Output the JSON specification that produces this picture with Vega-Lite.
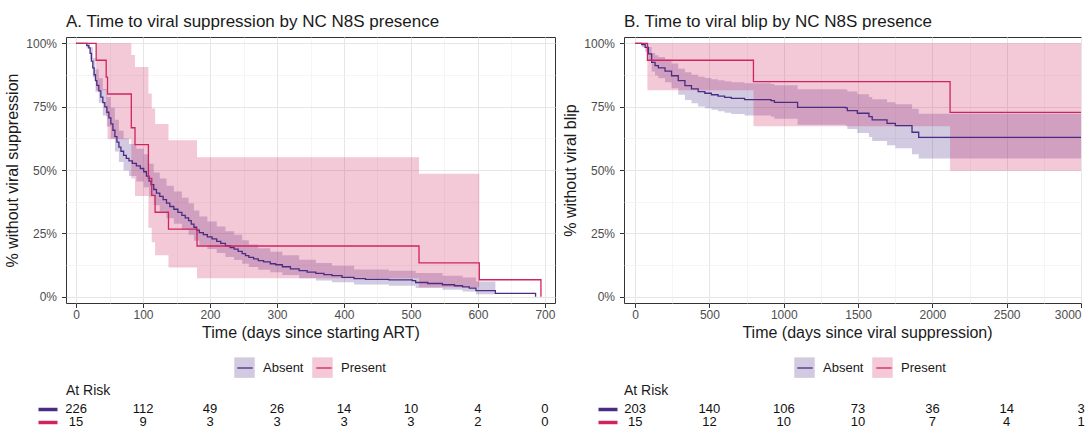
{
  "$schema": "https://vega.github.io/schema/vega-lite/v6.json",
  "padding": {"left": 4, "top": 12, "right": 0, "bottom": 0},
  "background": "white",
  "config": {
    "font": "Liberation Sans",
    "view": {"stroke": "#333333", "strokeWidth": 1},
    "axis": {"labelFont": "Liberation Sans", "labelFontSize": 12, "labelColor": "#4d4d4d", "titleFont": "Liberation Sans", "titleFontSize": 16, "titleFontWeight": "normal", "titleColor": "#1a1a1a", "tickColor": "#333333", "tickSize": 4.5, "tickWidth": 1, "domain": false, "gridColor": "#e6e6e6", "gridWidth": 1},
    "legend": {"labelFont": "Liberation Sans", "labelFontSize": 13, "labelColor": "#1a1a1a", "padding": 0},
    "title": {"font": "Liberation Sans", "fontWeight": "normal", "color": "#1a1a1a"}
  },
  "datasets": {
    "kmA": [
      {"t":0,"s":100,"g":"Absent"},{"t":16,"s":99.1,"g":"Absent"},{"t":19,"s":98.2,"g":"Absent"},{"t":21,"s":96,"g":"Absent"},{"t":23,"s":93,"g":"Absent"},{"t":25,"s":90.3,"g":"Absent"},{"t":27,"s":87.6,"g":"Absent"},{"t":29,"s":85.3,"g":"Absent"},{"t":31,"s":83.4,"g":"Absent"},{"t":34,"s":81.2,"g":"Absent"},{"t":37,"s":78.8,"g":"Absent"},{"t":40,"s":76.6,"g":"Absent"},{"t":43,"s":74.9,"g":"Absent"},{"t":46,"s":72.8,"g":"Absent"},{"t":49,"s":70.6,"g":"Absent"},{"t":52,"s":68.2,"g":"Absent"},{"t":55,"s":65.7,"g":"Absent"},{"t":58,"s":63.2,"g":"Absent"},{"t":61,"s":61,"g":"Absent"},{"t":64,"s":59,"g":"Absent"},{"t":67,"s":57.4,"g":"Absent"},{"t":71,"s":55.8,"g":"Absent"},{"t":75,"s":54.6,"g":"Absent"},{"t":79,"s":53.6,"g":"Absent"},{"t":84,"s":52.6,"g":"Absent"},{"t":90,"s":51.6,"g":"Absent"},{"t":96,"s":50.6,"g":"Absent"},{"t":101,"s":49.3,"g":"Absent"},{"t":105,"s":47.6,"g":"Absent"},{"t":109,"s":45.6,"g":"Absent"},{"t":112,"s":44.2,"g":"Absent"},{"t":116,"s":42.3,"g":"Absent"},{"t":120,"s":40.9,"g":"Absent"},{"t":125,"s":39.6,"g":"Absent"},{"t":130,"s":38.3,"g":"Absent"},{"t":135,"s":36.9,"g":"Absent"},{"t":140,"s":35.6,"g":"Absent"},{"t":146,"s":34.5,"g":"Absent"},{"t":152,"s":33.3,"g":"Absent"},{"t":158,"s":32.1,"g":"Absent"},{"t":163,"s":31.1,"g":"Absent"},{"t":168,"s":30,"g":"Absent"},{"t":172,"s":28.6,"g":"Absent"},{"t":176,"s":27.4,"g":"Absent"},{"t":180,"s":26.3,"g":"Absent"},{"t":184,"s":25.3,"g":"Absent"},{"t":190,"s":24.5,"g":"Absent"},{"t":196,"s":23.6,"g":"Absent"},{"t":203,"s":22.8,"g":"Absent"},{"t":210,"s":21.8,"g":"Absent"},{"t":216,"s":21,"g":"Absent"},{"t":223,"s":20.1,"g":"Absent"},{"t":230,"s":19.4,"g":"Absent"},{"t":236,"s":18.8,"g":"Absent"},{"t":242,"s":17.9,"g":"Absent"},{"t":248,"s":17,"g":"Absent"},{"t":253,"s":16.2,"g":"Absent"},{"t":258,"s":15.5,"g":"Absent"},{"t":265,"s":14.9,"g":"Absent"},{"t":272,"s":14.2,"g":"Absent"},{"t":280,"s":13.7,"g":"Absent"},{"t":290,"s":13,"g":"Absent"},{"t":298,"s":12.6,"g":"Absent"},{"t":308,"s":11.8,"g":"Absent"},{"t":320,"s":11,"g":"Absent"},{"t":333,"s":10.3,"g":"Absent"},{"t":345,"s":9.7,"g":"Absent"},{"t":358,"s":9.2,"g":"Absent"},{"t":370,"s":8.7,"g":"Absent"},{"t":382,"s":8.3,"g":"Absent"},{"t":397,"s":7.6,"g":"Absent"},{"t":415,"s":7.1,"g":"Absent"},{"t":432,"s":6.8,"g":"Absent"},{"t":467,"s":6.6,"g":"Absent"},{"t":502,"s":6.3,"g":"Absent"},{"t":507,"s":5.6,"g":"Absent"},{"t":525,"s":5.2,"g":"Absent"},{"t":547,"s":4.7,"g":"Absent"},{"t":565,"s":4.3,"g":"Absent"},{"t":577,"s":3.9,"g":"Absent"},{"t":587,"s":3.4,"g":"Absent"},{"t":597,"s":2.4,"g":"Absent"},{"t":626,"s":1.3,"g":"Absent"},{"t":686,"s":0,"g":"Absent"},
      {"t":0,"s":100,"g":"Present"},{"t":30,"s":93.33,"g":"Present"},{"t":45,"s":86.67,"g":"Present"},{"t":47,"s":80,"g":"Present"},{"t":82.5,"s":66.67,"g":"Present"},{"t":88,"s":60,"g":"Present"},{"t":108,"s":46.67,"g":"Present"},{"t":113,"s":40,"g":"Present"},{"t":118,"s":33.33,"g":"Present"},{"t":138,"s":26.67,"g":"Present"},{"t":180.6,"s":20,"g":"Present"},{"t":512,"s":13.33,"g":"Present"},{"t":602,"s":6.67,"g":"Present"},{"t":694,"s":0,"g":"Present"}
    ],
    "ciA": [
      {"t":0,"lo":100,"hi":100,"g":"Absent"},{"t":16,"lo":98,"hi":100,"g":"Absent"},{"t":21,"lo":93.6,"hi":98.5,"g":"Absent"},{"t":25,"lo":86.5,"hi":94.2,"g":"Absent"},{"t":29,"lo":80.9,"hi":89.8,"g":"Absent"},{"t":34,"lo":76.5,"hi":86.2,"g":"Absent"},{"t":40,"lo":71.5,"hi":82,"g":"Absent"},{"t":46,"lo":67.2,"hi":78.8,"g":"Absent"},{"t":52,"lo":62.4,"hi":74.6,"g":"Absent"},{"t":58,"lo":57.3,"hi":69.8,"g":"Absent"},{"t":64,"lo":53.2,"hi":65.5,"g":"Absent"},{"t":71,"lo":49.8,"hi":62.4,"g":"Absent"},{"t":79,"lo":47.6,"hi":60.3,"g":"Absent"},{"t":90,"lo":45.5,"hi":58.4,"g":"Absent"},{"t":101,"lo":43.2,"hi":56.2,"g":"Absent"},{"t":109,"lo":39.5,"hi":52.5,"g":"Absent"},{"t":116,"lo":36.1,"hi":49,"g":"Absent"},{"t":125,"lo":33.6,"hi":46.6,"g":"Absent"},{"t":135,"lo":31,"hi":43.8,"g":"Absent"},{"t":146,"lo":28.8,"hi":41.5,"g":"Absent"},{"t":158,"lo":26.3,"hi":39,"g":"Absent"},{"t":168,"lo":24.4,"hi":36.9,"g":"Absent"},{"t":176,"lo":22.1,"hi":34,"g":"Absent"},{"t":184,"lo":20.3,"hi":31.6,"g":"Absent"},{"t":196,"lo":18.8,"hi":29.7,"g":"Absent"},{"t":210,"lo":17.2,"hi":27.7,"g":"Absent"},{"t":223,"lo":15.7,"hi":25.8,"g":"Absent"},{"t":236,"lo":14.5,"hi":24.4,"g":"Absent"},{"t":248,"lo":13,"hi":22.3,"g":"Absent"},{"t":258,"lo":11.7,"hi":20.6,"g":"Absent"},{"t":272,"lo":10.6,"hi":19.1,"g":"Absent"},{"t":290,"lo":9.6,"hi":17.7,"g":"Absent"},{"t":308,"lo":8.6,"hi":16.3,"g":"Absent"},{"t":333,"lo":7.3,"hi":14.6,"g":"Absent"},{"t":358,"lo":6.4,"hi":13.3,"g":"Absent"},{"t":382,"lo":5.7,"hi":12.2,"g":"Absent"},{"t":415,"lo":4.8,"hi":10.7,"g":"Absent"},{"t":467,"lo":4.3,"hi":10.2,"g":"Absent"},{"t":507,"lo":3.4,"hi":9.3,"g":"Absent"},{"t":547,"lo":2.7,"hi":8.3,"g":"Absent"},{"t":577,"lo":2,"hi":7.6,"g":"Absent"},{"t":597,"lo":1,"hi":6,"g":"Absent"},{"t":626,"lo":1,"hi":6,"g":"Absent"},
      {"t":0,"lo":100,"hi":100,"g":"Present"},{"t":30,"lo":81.5,"hi":100,"g":"Present"},{"t":45,"lo":71.1,"hi":100,"g":"Present"},{"t":47,"lo":62.1,"hi":100,"g":"Present"},{"t":82.5,"lo":46.6,"hi":95.4,"g":"Present"},{"t":88,"lo":39.7,"hi":90.7,"g":"Present"},{"t":108,"lo":27.2,"hi":80.2,"g":"Present"},{"t":113,"lo":21.5,"hi":74.3,"g":"Present"},{"t":118,"lo":16.3,"hi":68.2,"g":"Present"},{"t":138,"lo":11.5,"hi":61.7,"g":"Present"},{"t":180.6,"lo":7.3,"hi":55,"g":"Present"},{"t":512,"lo":3.7,"hi":48.5,"g":"Present"},{"t":602,"lo":3.7,"hi":48.5,"g":"Present"}
    ],
    "kmB": [
      {"t":0,"s":100,"g":"Absent"},{"t":44,"s":99.5,"g":"Absent"},{"t":67,"s":98.4,"g":"Absent"},{"t":89,"s":95.8,"g":"Absent"},{"t":111,"s":92.5,"g":"Absent"},{"t":134,"s":91.2,"g":"Absent"},{"t":156,"s":90.3,"g":"Absent"},{"t":201,"s":89,"g":"Absent"},{"t":245,"s":87.2,"g":"Absent"},{"t":290,"s":85.3,"g":"Absent"},{"t":335,"s":83.3,"g":"Absent"},{"t":379,"s":82,"g":"Absent"},{"t":424,"s":80.9,"g":"Absent"},{"t":469,"s":80.3,"g":"Absent"},{"t":513,"s":79.7,"g":"Absent"},{"t":558,"s":79.2,"g":"Absent"},{"t":602,"s":78.7,"g":"Absent"},{"t":647,"s":78.3,"g":"Absent"},{"t":736,"s":77.8,"g":"Absent"},{"t":914,"s":77.4,"g":"Absent"},{"t":937,"s":76.7,"g":"Absent"},{"t":1093,"s":74.7,"g":"Absent"},{"t":1416,"s":74.5,"g":"Absent"},{"t":1428,"s":73.4,"g":"Absent"},{"t":1495,"s":72.4,"g":"Absent"},{"t":1573,"s":71.1,"g":"Absent"},{"t":1595,"s":69.8,"g":"Absent"},{"t":1695,"s":68.4,"g":"Absent"},{"t":1751,"s":67.5,"g":"Absent"},{"t":1863,"s":64.9,"g":"Absent"},{"t":1908,"s":62.9,"g":"Absent"},{"t":3000,"s":62.9,"g":"Absent"},
      {"t":0,"s":100,"g":"Present"},{"t":82.6,"s":93.33,"g":"Present"},{"t":796,"s":84.85,"g":"Present"},{"t":2119,"s":72.73,"g":"Present"},{"t":3000,"s":72.73,"g":"Present"}
    ],
    "ciB": [
      {"t":0,"lo":100,"hi":100,"g":"Absent"},{"t":44,"lo":98.5,"hi":100,"g":"Absent"},{"t":67,"lo":96.7,"hi":100,"g":"Absent"},{"t":89,"lo":93.1,"hi":98.6,"g":"Absent"},{"t":111,"lo":88.9,"hi":96.2,"g":"Absent"},{"t":134,"lo":87.3,"hi":95.3,"g":"Absent"},{"t":156,"lo":86.2,"hi":94.6,"g":"Absent"},{"t":201,"lo":84.6,"hi":93.6,"g":"Absent"},{"t":245,"lo":82.3,"hi":92,"g":"Absent"},{"t":290,"lo":79.7,"hi":90,"g":"Absent"},{"t":335,"lo":77.6,"hi":88.6,"g":"Absent"},{"t":379,"lo":76.3,"hi":87.6,"g":"Absent"},{"t":424,"lo":75.1,"hi":86.8,"g":"Absent"},{"t":469,"lo":74.4,"hi":86.3,"g":"Absent"},{"t":513,"lo":73.8,"hi":85.8,"g":"Absent"},{"t":558,"lo":73.2,"hi":85.4,"g":"Absent"},{"t":602,"lo":72.6,"hi":85,"g":"Absent"},{"t":647,"lo":72.1,"hi":84.6,"g":"Absent"},{"t":736,"lo":71.5,"hi":84.2,"g":"Absent"},{"t":914,"lo":71,"hi":83.9,"g":"Absent"},{"t":937,"lo":70.2,"hi":83.5,"g":"Absent"},{"t":1093,"lo":67.9,"hi":81.9,"g":"Absent"},{"t":1416,"lo":67.5,"hi":81.8,"g":"Absent"},{"t":1428,"lo":66.2,"hi":81,"g":"Absent"},{"t":1495,"lo":64.6,"hi":79.9,"g":"Absent"},{"t":1573,"lo":63,"hi":78.8,"g":"Absent"},{"t":1595,"lo":61.4,"hi":77.9,"g":"Absent"},{"t":1695,"lo":59.8,"hi":76.7,"g":"Absent"},{"t":1751,"lo":58.6,"hi":76,"g":"Absent"},{"t":1863,"lo":56.2,"hi":74.2,"g":"Absent"},{"t":1908,"lo":54.5,"hi":72.2,"g":"Absent"},{"t":3000,"lo":54.5,"hi":72.2,"g":"Absent"},
      {"t":0,"lo":100,"hi":100,"g":"Present"},{"t":82.6,"lo":81.5,"hi":100,"g":"Present"},{"t":796,"lo":67.3,"hi":100,"g":"Present"},{"t":2119,"lo":49.7,"hi":100,"g":"Present"},{"t":3000,"lo":49.7,"hi":100,"g":"Present"}
    ],
    "riskA": [
      {"t":0,"g":"Absent","n":226},{"t":100,"g":"Absent","n":112},{"t":200,"g":"Absent","n":49},{"t":300,"g":"Absent","n":26},{"t":400,"g":"Absent","n":14},{"t":500,"g":"Absent","n":10},{"t":600,"g":"Absent","n":4},{"t":700,"g":"Absent","n":0},
      {"t":0,"g":"Present","n":15},{"t":100,"g":"Present","n":9},{"t":200,"g":"Present","n":3},{"t":300,"g":"Present","n":3},{"t":400,"g":"Present","n":3},{"t":500,"g":"Present","n":3},{"t":600,"g":"Present","n":2},{"t":700,"g":"Present","n":0}
    ],
    "riskB": [
      {"t":0,"g":"Absent","n":203},{"t":500,"g":"Absent","n":140},{"t":1000,"g":"Absent","n":106},{"t":1500,"g":"Absent","n":73},{"t":2000,"g":"Absent","n":36},{"t":2500,"g":"Absent","n":14},{"t":3000,"g":"Absent","n":3},
      {"t":0,"g":"Present","n":15},{"t":500,"g":"Present","n":12},{"t":1000,"g":"Present","n":10},{"t":1500,"g":"Present","n":10},{"t":2000,"g":"Present","n":7},{"t":2500,"g":"Present","n":4},{"t":3000,"g":"Present","n":1}
    ]
  },
  "columns": 2,
  "align": "each",
  "spacing": {"row": 4, "column": 6},
  "resolve": {"scale": {"fill": "independent", "stroke": "independent"}, "legend": {"fill": "independent", "stroke": "independent"}},
  "concat": [
    {
      "width": 489, "height": 266,
      "title": {"text": "A. Time to viral suppression by NC N8S presence", "anchor": "start", "frame": "group", "fontSize": 17, "offset": -7, "baseline": "alphabetic"},
      "layer": [
        {
          "data": {"name": "ciA"},
          "mark": {"type": "area", "interpolate": "step-after", "fillOpacity": 0.25},
          "encoding": {
            "x": {"field": "t", "type": "quantitative", "scale": {"domain": [-15, 715], "nice": false, "zero": false}, "axis": {"orient": "bottom", "values": [50,150,250,350,450,550,650], "grid": true, "gridColor": "#f1f1f1", "gridWidth": 0.7, "labels": false, "ticks": false, "title": null}},
            "y": {"field": "lo", "type": "quantitative", "stack": null, "scale": {"domain": [-2.5, 102.5], "nice": false, "zero": false}, "axis": {"orient": "left", "values": [12.5,37.5,62.5,87.5], "grid": true, "gridColor": "#f1f1f1", "gridWidth": 0.7, "labels": false, "ticks": false, "title": null}},
            "y2": {"field": "hi"},
            "fill": {"field": "g", "type": "nominal", "scale": {"range": ["#4a2c82", "#d0245e"]}, "legend": {"orient": "none", "legendX": 168, "legendY": 320, "direction": "horizontal", "title": null, "symbolType": "square", "symbolSize": 420, "symbolOpacity": 0.25, "symbolStrokeWidth": 0, "labelOffset": 8, "columnPadding": 8}}
          }
        },
        {
          "data": {"name": "kmA"},
          "mark": {"type": "line", "interpolate": "step-after", "strokeWidth": 1.3},
          "encoding": {
            "x": {"field": "t", "type": "quantitative", "axis": {"orient": "bottom", "values": [0,100,200,300,400,500,600,700], "format": "d", "grid": true, "labelPadding": 1.5, "title": "Time (days since starting ART)", "titlePadding": 4}},
            "y": {"field": "s", "type": "quantitative", "axis": {"orient": "left", "values": [0,25,50,75,100], "grid": true, "labelExpr": "datum.value + '%'", "labelPadding": 5, "title": "% without viral suppression", "titlePadding": 5}},
            "stroke": {"field": "g", "type": "nominal", "scale": {"range": ["#4a2c82", "#d0245e"]}, "legend": {"orient": "none", "legendX": 168, "legendY": 320, "direction": "horizontal", "title": null, "symbolType": "M-0.75,0H0.75", "symbolSize": 420, "symbolStrokeWidth": 1.3, "labelOffset": 8, "columnPadding": 8, "labelOpacity": 0}}
          }
        }
      ],
      "resolve": {"axis": {"x": "independent", "y": "independent"}}
    },
    {
      "width": 457, "height": 266,
      "title": {"text": "B. Time to viral blip by NC N8S presence", "anchor": "start", "frame": "group", "fontSize": 17, "offset": -7, "baseline": "alphabetic"},
      "layer": [
        {
          "data": {"name": "ciB"},
          "mark": {"type": "area", "interpolate": "step-after", "fillOpacity": 0.25},
          "encoding": {
            "x": {"field": "t", "type": "quantitative", "scale": {"domain": [-75, 3000], "nice": false, "zero": false}, "axis": {"orient": "bottom", "values": [250,750,1250,1750,2250,2750], "grid": true, "gridColor": "#f1f1f1", "gridWidth": 0.7, "labels": false, "ticks": false, "title": null}},
            "y": {"field": "lo", "type": "quantitative", "stack": null, "scale": {"domain": [-2.5, 102.5], "nice": false, "zero": false}, "axis": {"orient": "left", "values": [12.5,37.5,62.5,87.5], "grid": true, "gridColor": "#f1f1f1", "gridWidth": 0.7, "labels": false, "ticks": false, "title": null}},
            "y2": {"field": "hi"},
            "fill": {"field": "g", "type": "nominal", "scale": {"range": ["#4a2c82", "#d0245e"]}, "legend": {"orient": "none", "legendX": 170, "legendY": 320, "direction": "horizontal", "title": null, "symbolType": "square", "symbolSize": 420, "symbolOpacity": 0.25, "symbolStrokeWidth": 0, "labelOffset": 8, "columnPadding": 8}}
          }
        },
        {
          "data": {"name": "kmB"},
          "mark": {"type": "line", "interpolate": "step-after", "strokeWidth": 1.3},
          "encoding": {
            "x": {"field": "t", "type": "quantitative", "axis": {"orient": "bottom", "values": [0,500,1000,1500,2000,2500,3000], "format": "d", "grid": true, "labelPadding": 1.5, "labelFlush": true, "title": "Time (days since viral suppression)", "titlePadding": 4, "titleX": 243}},
            "y": {"field": "s", "type": "quantitative", "axis": {"orient": "left", "values": [0,25,50,75,100], "grid": true, "labelExpr": "datum.value + '%'", "labelPadding": 5, "title": "% without viral blip", "titlePadding": 5}},
            "stroke": {"field": "g", "type": "nominal", "scale": {"range": ["#4a2c82", "#d0245e"]}, "legend": {"orient": "none", "legendX": 170, "legendY": 320, "direction": "horizontal", "title": null, "symbolType": "M-0.75,0H0.75", "symbolSize": 420, "symbolStrokeWidth": 1.3, "labelOffset": 8, "columnPadding": 8, "labelOpacity": 0}}
          }
        }
      ],
      "resolve": {"axis": {"x": "independent", "y": "independent"}}
    },
    {
      "width": 489, "height": 26,
      "view": {"stroke": null},
      "title": {"text": "At Risk", "anchor": "start", "frame": "group", "fontSize": 14, "offset": -6.5, "baseline": "alphabetic"},
      "data": {"name": "riskA"},
      "mark": {"type": "text", "fontSize": 13, "color": "#111111"},
      "encoding": {
        "x": {"field": "t", "type": "quantitative", "scale": {"domain": [-15, 715], "nice": false, "zero": false}, "axis": null},
        "y": {"field": "g", "type": "nominal", "scale": {"type": "point", "padding": 0.5, "domain": ["Absent", "Present"]}, "axis": {"title": null, "labels": false, "domain": false, "grid": false, "offset": 9, "tickSize": 19, "tickWidth": 3.5, "tickCap": "butt", "tickColor": {"condition": {"test": "datum.value === 'Absent'", "value": "#4a2c82"}, "value": "#d0245e"}}},
        "text": {"field": "n", "type": "quantitative"}
      }
    },
    {
      "width": 457, "height": 26,
      "view": {"stroke": null},
      "title": {"text": "At Risk", "anchor": "start", "frame": "group", "fontSize": 14, "offset": -6.5, "baseline": "alphabetic"},
      "data": {"name": "riskB"},
      "mark": {"type": "text", "fontSize": 13, "color": "#111111"},
      "encoding": {
        "x": {"field": "t", "type": "quantitative", "scale": {"domain": [-75, 3000], "nice": false, "zero": false}, "axis": null},
        "y": {"field": "g", "type": "nominal", "scale": {"type": "point", "padding": 0.5, "domain": ["Absent", "Present"]}, "axis": {"title": null, "labels": false, "domain": false, "grid": false, "offset": 7, "tickSize": 19, "tickWidth": 3.5, "tickCap": "butt", "tickColor": {"condition": {"test": "datum.value === 'Absent'", "value": "#4a2c82"}, "value": "#d0245e"}}},
        "text": {"field": "n", "type": "quantitative"}
      }
    }
  ]
}
